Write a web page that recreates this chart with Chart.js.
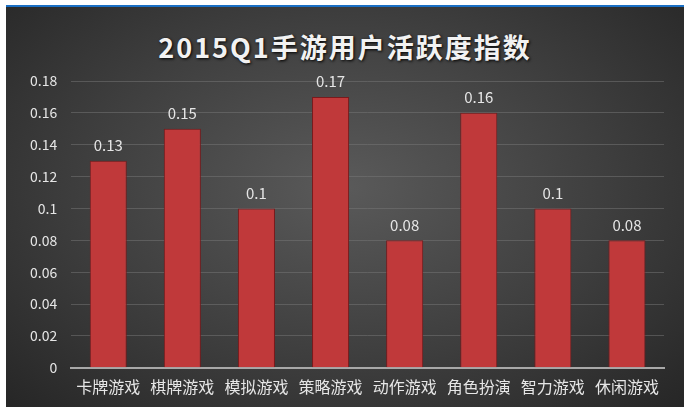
<!DOCTYPE html>
<html>
<head>
<meta charset="utf-8">
<script src="https://cdn.jsdelivr.net/npm/chart.js@4/dist/chart.umd.min.js"></script>
<style>
  body { margin: 0; background: #fff; }
  #wrap {
    position: absolute; left: 6px; top: 5px; width: 678px; height: 400px;
    background: radial-gradient(ellipse at 50% 45%, #5a5a5a 0%, #3e3e3e 55%, #262626 100%);
    border-top: 2px solid #1a6fc4;
  }
  #title {
    position: absolute; top: 20px; width: 100%; text-align: center;
    color: #f2f2f2; font: bold 27px "Noto Sans CJK SC", sans-serif; letter-spacing: 2px;
    text-shadow: 1px 1px 3px #000;
  }
  canvas { position: absolute; left: 0; top: 0; }
</style>
</head>
<body>
<div id="wrap">
  <div id="title">2015Q1手游用户活跃度指数</div>
  <canvas id="c" width="678" height="400"></canvas>
</div>
<script>
const categories = ['卡牌游戏', '棋牌游戏', '模拟游戏', '策略游戏', '动作游戏', '角色扮演', '智力游戏', '休闲游戏'];
const values = [0.13, 0.15, 0.1, 0.17, 0.08, 0.16, 0.1, 0.08];
const labels = ['0.13', '0.15', '0.1', '0.17', '0.08', '0.16', '0.1', '0.08'];

const FONT = '"Noto Sans CJK SC", sans-serif';

function barFill(ctx) {
  const el = ctx.element;
  const c = ctx.chart.ctx;
  if (!el || el.x === undefined || isNaN(el.x)) return '#c0393a';
  const w = el.width || 36;
  const g = c.createLinearGradient(el.x - w / 2, 0, el.x + w / 2, 0);
  g.addColorStop(0, '#9e2426');
  g.addColorStop(0.5, '#d24244');
  g.addColorStop(1, '#9e2426');
  return g;
}

const valueLabels = {
  id: 'valueLabels',
  afterDatasetsDraw(chart) {
    const c = chart.ctx;
    c.save();
    c.fillStyle = '#e6e6e6';
    c.font = '15px ' + FONT;
    c.textAlign = 'center';
    c.textBaseline = 'bottom';
    chart.getDatasetMeta(0).data.forEach((bar, i) => {
      c.fillText(labels[i], bar.x, bar.y - 8);
    });
    c.restore();
  }
};

new Chart(document.getElementById('c'), {
  type: 'bar',
  data: {
    labels: categories,
    datasets: [{
      data: values,
      backgroundColor: barFill,
      borderColor: '#7a1a1c',
      borderWidth: 1,
      categoryPercentage: 1,
      barPercentage: 0.5
    }]
  },
  options: {
    responsive: false,
    animation: false,
    layout: { padding: { left: 10, right: 20, top: 74, bottom: 8 } },
    plugins: { legend: { display: false }, tooltip: { enabled: false } },
    scales: {
      x: {
        grid: { display: false },
        border: { color: '#a8a8a8', width: 2 },
        ticks: { color: '#e6e6e6', font: { family: FONT, size: 16 }, padding: 2, maxRotation: 0, autoSkip: false }
      },
      y: {
        min: 0, max: 0.18,
        ticks: { stepSize: 0.02, color: '#e6e6e6', font: { family: FONT, size: 14 }, padding: 14,
                 callback: v => Math.round(v * 100) / 100 },
        grid: { color: 'rgba(120,120,120,0.5)', drawTicks: false },
        border: { display: false }
      }
    }
  },
  plugins: [valueLabels]
});
</script>
</body>
</html>
